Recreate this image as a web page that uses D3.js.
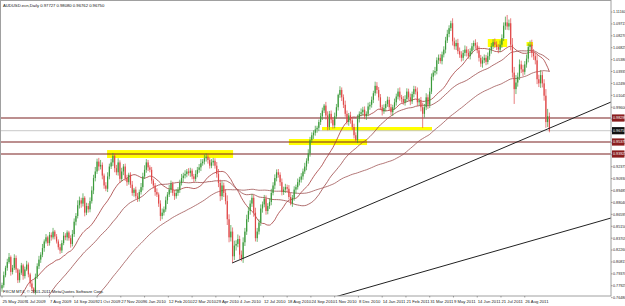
<!DOCTYPE html>
<html><head><meta charset="utf-8">
<script src="https://cdn.jsdelivr.net/npm/d3@7"></script>
<style>body{margin:0;background:#fff}svg{display:block}text{font-family:"Liberation Sans Narrow","Liberation Sans",Arial,sans-serif}</style>
</head><body><svg id="c" width="625" height="306"></svg>
<script>
// ---------- data (prices in pips x 1e-4, 2-day bars) ----------
const title = "AUDUSD.ecn,Daily  0.97727 0.98080 0.96762 0.96750";
const footer = "FXCM MT4, \u00a9 2001-2011 MetaQuotes Software Corp.";
const firstOpen = 7760;
const closes = [
7800,7920,8010,8080,8140,7960,8010,8130,7990,7860,
7950,8040,7910,7990,8050,7930,7820,7760,7720,7900,
8030,8110,8170,8250,8330,8380,8310,8410,8380,8450,
8390,8330,8260,8220,8310,8400,8380,8440,8370,8300,
8420,8570,8640,8770,8830,8790,8860,8680,8760,8720,
8820,8950,9100,9180,9300,9240,9260,9130,9010,8970,
9120,9240,9290,9370,9220,9170,9290,9090,9180,9240,
9100,9050,9140,9020,8920,8960,8880,8850,8930,8990,
9120,9200,9290,9230,9200,9070,9010,8930,8900,8790,
8640,8680,8720,8830,8900,8960,9030,8920,8880,8920,
8960,9040,9100,9130,9150,9180,9160,9190,9120,9090,
9150,9200,9230,9280,9300,9340,9360,9320,9250,9290,
9310,9250,9150,9040,8880,9010,8920,8820,8600,8380,
8450,8150,8280,8300,8360,8170,8120,8320,8450,8600,
8700,8790,8860,8680,8370,8450,8560,8730,8780,8850,
8700,8760,8810,8920,9010,9100,9170,9140,9050,8930,
8960,8990,8970,8870,8790,8860,8960,8990,9050,9080,
9120,9180,9240,9310,9400,9560,9620,9650,9690,9710,
9780,9850,9920,9980,9860,9720,9880,9810,9740,9850,
9960,10110,10170,10080,9990,9880,9780,9860,9800,9720,
9620,9560,9820,9880,9900,9930,9850,9880,9970,9990,
10050,10130,10220,10170,10080,9960,9910,9950,10000,10050,
9960,9900,9960,10020,10090,10150,10080,10060,10020,10060,
10150,10080,10030,10120,10180,10150,10020,10040,9960,9880,
9960,10080,9990,10150,10330,10380,10400,10530,10560,10520,
10600,10660,10770,10850,10920,10980,10760,10700,10740,10640,
10600,10560,10620,10660,10620,10580,10640,10700,10740,10710,
10650,10560,10490,10530,10560,10510,10580,10650,10700,10750,
10720,10690,10660,10720,10800,10950,10990,10940,10980,10720,
10380,10180,10260,10330,10480,10420,10390,10480,10550,10690,
10720,10620,10580,10530,10300,10250,10350,10250,10100,9780,9850,9675];
const upWick = [
30,45,25,40,50,20,35,45,30,15, 40,30,20,35,45,25,20,30,15,40,
35,45,30,50,25,40,20,35,30,45, 20,30,25,40,35,45,30,25,20,35,
50,40,35,60,45,30,55,20,40,35, 45,50,40,55,35,45,60,30,25,40,
50,35,45,35,30,40,50,25,45,30, 35,40,25,30,45,20,35,40,30,50,
45,55,40,30,25,35,20,30,45,25, 40,50,35,45,30,55,40,25,35,45,
30,40,50,35,45,30,40,35,25,30, 45,35,40,50,30,45,40,35,30,40,
35,30,45,60,40,50,35,45,70,60, 80,50,60,45,55,40,50,60,45,55,
50,40,45,35,60,45,40,50,35,45, 40,35,45,50,40,45,35,40,30,45,
35,40,30,45,50,35,40,30,45,35, 40,35,45,30,50,40,35,30,45,25,
30,40,35,20,45,50,35,40,30,45, 40,15,45,30,35,50,40,30,45,35,
40,35,50,30,45,35,40,30,45,35, 40,30,50,45,35,40,30,45,35,40,
35,40,30,45,35,40,50,30,35,45, 40,35,45,30,40,35,50,30,45,55,
40,50,35,45,40,30,50,35,40,45, 35,40,45,50,35,30,60,45,40,50,
45,40,35,50,40,45,35,40,30,45, 40,50,35,45,40,35,45,30,40,35,
45,40,35,50,45,40,70,90,45,60, 80,70,90,50,60,45,55,40,50,45,
50,60,45,40,70,55,60,45,50,80,90,45];
const dnWick = [
40,30,25,35,20,45,30,25,40,35, 30,25,45,30,20,35,40,30,20,35,
25,35,40,30,45,25,35,30,40,25, 35,25,30,40,30,25,35,40,30,45,
30,35,45,30,40,50,35,45,30,40, 35,30,45,40,30,50,35,45,40,30,
40,35,30,45,50,35,40,50,30,45, 35,45,30,40,35,45,30,40,35,30,
40,30,35,45,30,40,35,45,30,40, 60,40,35,30,45,30,40,35,45,30,
35,40,30,45,35,40,30,45,35,40, 30,40,35,45,30,35,40,45,35,30,
40,35,45,50,60,45,50,40,70,60, 50,80,45,60,40,55,30,50,45,40,
35,45,40,50,40,45,35,40,50,35, 45,40,35,40,30,45,40,35,45,40,
35,40,45,30,20,40,35,45,30,40, 35,40,30,45,35,40,30,45,35,40,
40,35,45,30,50,40,35,45,40,35, 30,40,35,45,40,35,30,45,40,35,
40,20,35,45,30,40,35,45,30,40, 35,40,30,45,40,35,50,30,40,35,
40,35,45,30,40,35,40,45,30,40, 35,40,45,30,40,35,45,40,50,170,
45,35,50,40,30,45,35,40,45,30, 40,35,45,30,40,35,50,40,45,35,
40,45,35,40,45,30,40,35,45,40, 35,45,40,50,35,40,30,45,40,35,
40,35,45,30,40,35,50,40,45,70, 60,180,60,50,40,45,50,35,40,45,
40,55,45,50,60,45,55,50,60,70,60,20];
// closes before the first visible bar (for the moving averages)
const preCloses = [
8720,8690,8650,8700,8620,8680,8600,8400,8250,8200,
8050,8000,8150,8100,8250,8400,8300,8150,7900,7600,
7300,6950,6600,6800,7000,7100,6800,6500,6200,6100,
6500,6700,6900,7000,6800,6700,6600,6500,6400,6150,
6300,6500,6450,6400,6500,6650,6750,6900,7050,7000,
6950,7000,7050,7150,7050,6900,6750,6600,6550,6450,
6400,6450,6450,6550,6600,6650,6600,6500,6450,6400,
6400,6450,6350,6400,6300,6400,6500,6600,6800,6900,
6950,6900,7050,7100,7050,7200,7250,7150,7100,7050,
7100,7200,7350,7450,7550,7650,7500,7550,7700,7750];
const maPeriods = [25, 50, 100];
const priceTicks = [1.11160,1.09715,1.08270,1.06825,1.05380,1.03935,1.02490,1.01045,0.99600,
  0.98155,0.96710,0.95265,0.93820,0.92375,0.90930,0.89485,0.88040,0.86595,0.85150,
  0.83705,0.82260,0.80815,0.79370,0.77925,0.76480];
const dateLabels = ["25 May 2009","1 Jul 2009","7 Aug 2009","14 Sep 2009","21 Oct 2009","27 Nov 2009",
  "6 Jan 2010","12 Feb 2010","22 Mar 2010","29 Apr 2010","4 Jun 2010","12 Jul 2010","18 Aug 2010",
  "24 Sep 2010","1 Nov 2010","8 Dec 2010","14 Jan 2011","21 Feb 2011","31 Mar 2011","9 May 2011",
  "14 Jun 2011","21 Jul 2011","26 Aug 2011"];
const dateLabelBars = [0,13.5,27,40.5,54,67.5,81,94.5,108,121.5,135,148.5,162,175.5,189,202.5,216,229.5,243,256.5,270,283.5,297];
const levelPrices = [0.98290, 0.95378, 0.93921];
const currentPrice = 0.96750;
// yellow zones: bars and prices
const zoneBar0 = [59.7, 163, 181.8, 276, 298];
const zoneBar1 = [131.3, 207.4, 244.3, 287, 301.7];
const zoneTop = [0.9440, 0.9574, 0.9720, 1.0788, 1.0752];
const zoneBot = [0.9344, 0.9501, 0.9671, 1.0691, 1.0703];
// trend lines
const tlBar0 = [130.8, 185.2], tlP0 = [0.8069, 0.7632];
const tlBar1 = [346, 346], tlP1 = [1.0023, 0.8615];

// ---------- chart ----------
const W = 625, H = 306, PW = 611, PH = 296;
const svg = d3.select("#c");
const x = d3.scaleLinear().domain([0, 311]).range([2, 549.4]);
const y = d3.scaleLinear().domain([0.7668, 1.1262]).range([PH, 0]);

const bars = closes.map((c, i) => {
  const o = (i === 0 ? firstOpen : closes[i - 1]) / 1e4, cl = c / 1e4;
  return {i, o, c: cl, h: Math.max(o, cl) + upWick[i] / 1e4, l: Math.min(o, cl) - dnWick[i] / 1e4};
});
const all = preCloses.concat(closes).map(v => v / 1e4);
const off = preCloses.length;

svg.append("defs").append("clipPath").attr("id", "pc")
  .append("rect").attr("x", 0).attr("y", 0).attr("width", PW).attr("height", PH);
svg.append("rect").attr("x", 0).attr("y", 0).attr("width", W).attr("height", H).attr("fill", "#fff");
const g = svg.append("g").attr("clip-path", "url(#pc)");

g.selectAll(".zone").data(zoneBar0).join("rect")
  .attr("x", d => x(d)).attr("width", (d, k) => x(zoneBar1[k]) - x(d))
  .attr("y", (d, k) => y(zoneTop[k])).attr("height", (d, k) => y(zoneBot[k]) - y(zoneTop[k]))
  .attr("fill", "#ffff00");

g.append("line").attr("x1", 0).attr("x2", PW).attr("y1", y(currentPrice)).attr("y2", y(currentPrice))
  .attr("stroke", "#c8c8c8").attr("stroke-width", 1);
g.selectAll(".lvl").data(levelPrices).join("line")
  .attr("x1", 0).attr("x2", PW).attr("y1", d => y(d)).attr("y2", d => y(d))
  .attr("stroke", "#7b2020").attr("stroke-width", 1.2);

const maColors = ["#a33a3a", "#9c4a4a", "#a05555"];
maPeriods.forEach((p, k) => {
  const pts = bars.map(b => {
    const end = b.i + off;
    return [b.i, d3.mean(all.slice(end - p + 1, end + 1))];
  });
  g.append("path").datum(pts)
    .attr("d", d3.line().x(d => x(d[0])).y(d => y(d[1])).curve(d3.curveMonotoneX))
    .attr("fill", "none").attr("stroke", maColors[k]).attr("stroke-width", 0.8);
});

const up = "#3a9a3a", dn = "#e04848";
g.selectAll(".wick").data(bars).join("line")
  .attr("x1", d => x(d.i)).attr("x2", d => x(d.i))
  .attr("y1", d => y(d.h)).attr("y2", d => y(d.l))
  .attr("stroke", d => d.c >= d.o ? up : dn).attr("stroke-width", 0.7);
g.selectAll(".body").data(bars).join("rect")
  .attr("x", d => x(d.i) - 0.6).attr("width", 1.2)
  .attr("y", d => y(Math.max(d.o, d.c))).attr("height", d => Math.max(0.6, Math.abs(y(d.o) - y(d.c))))
  .attr("fill", d => d.c >= d.o ? up : dn);

g.selectAll(".tl").data(tlBar0).join("line")
  .attr("x1", d => x(d)).attr("y1", (d, k) => y(tlP0[k]))
  .attr("x2", (d, k) => x(tlBar1[k])).attr("y2", (d, k) => y(tlP1[k]))
  .attr("stroke", "#222").attr("stroke-width", 1);

svg.append("rect").attr("x", 0.5).attr("y", 0.5).attr("width", PW - 0.5).attr("height", PH - 0.5)
  .attr("fill", "none").attr("stroke", "#a0a0a0").attr("stroke-width", 1);

// right price axis
const fs = 4.2, fsR = 3.7;
const ay = svg.append("g");
priceTicks.forEach(v => {
  ay.append("line").attr("x1", PW).attr("x2", PW + 1.5).attr("y1", y(v)).attr("y2", y(v)).attr("stroke", "#666").attr("stroke-width", 0.6);
  ay.append("text").attr("x", PW + 2).attr("y", y(v) + 1.4).attr("font-size", fsR).attr("fill", "#222").text(v.toFixed(5));
});
levelPrices.forEach(v => {
  ay.append("rect").attr("x", PW + 1).attr("y", y(v) - 3.6).attr("width", 12.5).attr("height", 7.2).attr("fill", "#8b1e1e");
  ay.append("text").attr("x", PW + 2).attr("y", y(v) + 1.4).attr("font-size", fsR).attr("fill", "#fff").text(v.toFixed(5));
});
ay.append("rect").attr("x", PW + 1).attr("y", y(currentPrice) - 3.6).attr("width", 12.5).attr("height", 7.2).attr("fill", "#111");
ay.append("text").attr("x", PW + 2).attr("y", y(currentPrice) + 1.4).attr("font-size", fsR).attr("fill", "#fff").text(currentPrice.toFixed(5));

// bottom date axis
const ax = svg.append("g");
dateLabels.forEach((t, k) => {
  const xx = x(dateLabelBars[k]);
  ax.append("line").attr("x1", xx).attr("x2", xx).attr("y1", PH).attr("y2", PH + 1.5).attr("stroke", "#666").attr("stroke-width", 0.6);
  ax.append("text").attr("x", xx + 0.5).attr("y", PH + 6.5).attr("font-size", fs).attr("fill", "#222").text(t);
});

svg.append("text").attr("x", 3).attr("y", 6.5).attr("font-size", fs).attr("fill", "#111").text(title);
svg.append("text").attr("x", 3).attr("y", PH - 3).attr("font-size", fs).attr("fill", "#111").text(footer);
</script></body></html>
